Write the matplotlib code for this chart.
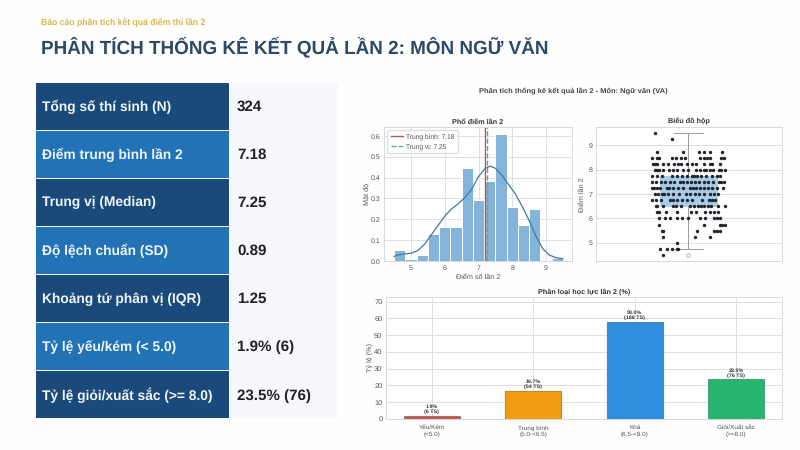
import matplotlib
matplotlib.use("Agg")
import matplotlib.pyplot as plt
from matplotlib.patches import Rectangle

plt.rcParams['font.family'] = ['Liberation Sans', 'DejaVu Sans']
plt.rcParams['text.hinting'] = 'no_hinting'

W, H = 800, 450
SUBTITLE = "Báo cáo phân tích kết quả điểm thi lần 2"
TITLE = "PHÂN TÍCH THỐNG KÊ KẾT QUẢ LẦN 2: MÔN NGỮ VĂN"
CHART_TITLE = "Phân tích thống kê kết quả lần 2 - Môn: Ngữ văn (VA)"

stat_labels = ["Tổng số thí sinh (N)", "Điểm trung bình lần 2", "Trung vị (Median)",
               "Độ lệch chuẩn (SD)", "Khoảng tứ phân vị (IQR)", "Tỷ lệ yếu/kém (< 5.0)",
               "Tỷ lệ giỏi/xuất sắc (>= 8.0)"]
stat_values = ["324", "7.18", "7.25", "0.89", "1.25", "1.9% (6)", "23.5% (76)"]
row_colors = ["#1b4a7a", "#2272b5", "#1b4a7a", "#2272b5", "#1b4a7a", "#2272b5", "#1b4a7a"]

hist_edges = [4.5, 4.833, 5.167, 5.5, 5.833, 6.167, 6.5, 6.833, 7.167, 7.5, 7.833, 8.167, 8.5, 8.833, 9.167, 9.5]
hist_density = [0.055, 0.008, 0.028, 0.13, 0.165, 0.165, 0.445, 0.295, 0.385, 0.61, 0.26, 0.175, 0.25, 0.0, 0.012]
kde_x = [4.5, 4.6, 4.8, 5.0, 5.2, 5.4, 5.6, 5.8, 6.0, 6.2, 6.4, 6.6, 6.8, 7.0, 7.2, 7.35, 7.5, 7.7, 7.9, 8.1, 8.3, 8.5, 8.7, 8.9, 9.1, 9.3, 9.5]
kde_y = [0.022, 0.028, 0.034, 0.037, 0.05, 0.08, 0.125, 0.17, 0.215, 0.25, 0.275, 0.305, 0.345, 0.405, 0.445, 0.455, 0.445, 0.41, 0.365, 0.32, 0.26, 0.195, 0.12, 0.06, 0.028, 0.016, 0.011]
mean_score = 7.18
median_score = 7.25

box_q1, box_median, box_q3 = 6.5, 7.25, 7.75
box_whisker_low, box_whisker_high = 4.75, 9.5
box_flier = 4.5
strip_levels = [9.5, 9.25, 8.75, 8.5, 8.25, 8.0, 7.75, 7.5, 7.25, 7.0, 6.75, 6.5, 6.25, 6.0, 5.75, 5.5, 5.25, 5.0, 4.75, 4.5]
strip_jitter = [
    [256], [305],
    [260, 340, 385, 402, 420, 455],
    [245, 262, 268, 305, 318, 332, 345, 390, 400, 410, 418, 452, 460],
    [250, 256, 262, 280, 295, 312, 325, 332, 350, 365, 378, 400, 418, 425, 448],
    [255, 262, 268, 280, 297, 308, 322, 340, 353, 378, 388, 400, 408, 418, 428, 445, 452, 465],
    [245, 262, 275, 305, 320, 335, 352, 365, 372, 380, 392, 408, 425, 440, 448],
    [245, 258, 272, 285, 300, 312, 330, 340, 350, 362, 375, 385, 400, 412, 428, 445, 452, 460],
    [245, 252, 262, 270, 290, 298, 310, 325, 340, 358, 368, 378, 388, 400, 412, 425, 440, 458],
    [255, 265, 275, 282, 295, 310, 328, 348, 360, 375, 385, 400, 418, 430, 442],
    [245, 258, 272, 300, 310, 322, 335, 352, 365, 395, 415, 425, 435],
    [258, 262, 278, 308, 318, 332, 360, 372, 382, 392, 402, 412, 422, 442, 465],
    [262, 268, 288, 320, 362, 378, 405, 418, 430, 442],
    [268, 285, 300, 322, 335, 355, 390, 405, 430, 440, 448],
    [268, 400, 448, 455, 465],
    [275, 280, 380, 430, 440, 450],
    [278, 375, 418],
    [320],
    [270, 290, 305, 322, 325],
    [278],
]

bar_labels = ["Yếu/Kém\n(<5.0)", "Trung bình\n(5.0-<6.5)", "Khá\n(6.5-<8.0)", "Giỏi/Xuất sắc\n(>=8.0)"]
bar_pct = [1.9, 16.7, 58.0, 23.5]
bar_counts = [6, 54, 188, 76]
bar_colors = ["#c0574a", "#f39c12", "#2f8fdf", "#28b56f"]
bar_edges = ["#b0706a", "#b98a3c", "#4f86b3", "#4fa07d"]

GRID = "#dfdfe8"
SPINE = "#d8d8e2"
TXT = "#555555"


def axes_px(fig, left, top, right, bottom):
    return fig.add_axes([left / W, 1 - bottom / H, (right - left) / W, (bottom - top) / H])


def style(ax):
    ax.set_facecolor("white")
    ax.set_axisbelow(True)
    ax.grid(True, color=GRID, lw=0.7)
    for s in ax.spines.values():
        s.set_color(SPINE)
        s.set_linewidth(0.7)
    ax.tick_params(length=0, labelsize=5.0, labelcolor=TXT, pad=2.5)


fig = plt.figure(figsize=(W / 100, H / 100), dpi=100, facecolor="#fefefe")

# Header
fig.text(41 / W, 1 - 22 / H, SUBTITLE, fontsize=6.2, fontweight="bold", color="#d9b44a", va="center")
fig.text(41 / W, 1 - 47 / H, TITLE, fontsize=13.6, fontweight="bold", color="#2c4a68", va="center")

# Statistic panel
panel = fig.add_axes([0, 0, 1, 1], zorder=0)
panel.set_xlim(0, W)
panel.set_ylim(H, 0)
panel.axis("off")
panel.add_patch(Rectangle((230, 82.5), 108, 335.5, fc="#f7f8fc", ec="none"))
row_top = 82.5
row_pitch = 48.1
for i, (lab, val, col) in enumerate(zip(stat_labels, stat_values, row_colors)):
    y = row_top + i * row_pitch
    panel.add_patch(Rectangle((36, y), 193, 47, fc=col, ec="none"))
    panel.text(42, y + 24, lab, fontsize=9.9, fontweight="bold", color="#eef6fb", va="center")
    panel.text(237, y + 24.5, val, fontsize=10.9, fontweight="bold", color="#222222", va="center")

fig.text(573 / W, 1 - 91 / H, CHART_TITLE, fontsize=5.4, fontweight="bold", color="#444444",
         ha="center", va="center")

# Histogram
ax1 = axes_px(fig, 384, 127, 572, 261)
style(ax1)
ax1.bar(hist_edges[:-1], hist_density, width=[b - a for a, b in zip(hist_edges[:-1], hist_edges[1:])],
        align="edge", color="#85b4da", edgecolor="white", linewidth=0.7)
ax1.plot(kde_x, kde_y, color="#3f7a9f", lw=0.9)
ax1.axvline(mean_score, color="#c0574a", lw=1.0, label=f"Trung bình: {mean_score:.2f}")
ax1.axvline(median_score, color="#6aa88c", lw=1.0, ls="--", label=f"Trung vị: {median_score:.2f}")
ax1.set_xlim(4.2, 9.77)
ax1.set_ylim(0, 0.643)
ax1.set_xticks([5, 6, 7, 8, 9])
ax1.set_yticks([0, 0.1, 0.2, 0.3, 0.4, 0.5, 0.6])
ax1.set_title("Phổ điểm lần 2", fontsize=5.2, fontweight="bold", color="#333333", pad=2.5)
ax1.set_xlabel("Điểm số lần 2", fontsize=5.2, color=TXT, labelpad=2)
ax1.set_ylabel("Mật độ", fontsize=5.2, color=TXT, labelpad=0.5)
ax1.legend(loc="upper left", fontsize=4.8, frameon=True, facecolor="white", edgecolor=SPINE,
           framealpha=0.8, labelcolor=TXT, borderpad=0.5, handlelength=1.8, handletextpad=0.5,
           labelspacing=0.5)

# Box plot with strip
ax2 = axes_px(fig, 596, 127.5, 782, 261)
style(ax2)
ax2.bxp([dict(med=box_median, q1=box_q1, q3=box_q3, whislo=box_whisker_low, whishi=box_whisker_high,
              fliers=[box_flier])],
        positions=[355], widths=[168], capwidths=[84], patch_artist=True, manage_ticks=False,
        boxprops=dict(facecolor="#a9cde8", edgecolor="#a9cde8", linewidth=0.6),
        medianprops=dict(color="#8fb4d4", linewidth=0.7),
        whiskerprops=dict(color="#9a9aa0", linewidth=0.7),
        capprops=dict(color="#9a9aa0", linewidth=0.7),
        flierprops=dict(marker="o", markersize=2.6, markerfacecolor="white",
                        markeredgecolor="#9a9aa0", markeredgewidth=0.5))
for level, xs in zip(strip_levels, strip_jitter):
    ax2.scatter(xs, [level] * len(xs), s=6, color="#20242c", linewidths=0, zorder=4)
ax2.set_xlim(78, 635)
ax2.set_ylim(4.25, 9.74)
ax2.set_xticks([])
ax2.set_yticks([5, 6, 7, 8, 9])
ax2.set_title("Biểu đồ hộp", fontsize=5.2, fontweight="bold", color="#333333", pad=2.5)
ax2.set_ylabel("Điểm lần 2", fontsize=5.2, color=TXT, labelpad=2)

# Category bars
ax3 = axes_px(fig, 386, 296.7, 782, 418.7)
style(ax3)
ax3.bar(range(4), bar_pct, width=0.55, color=bar_colors, edgecolor=bar_edges, linewidth=0.8)
for i, (p, c) in enumerate(zip(bar_pct, bar_counts)):
    ax3.text(i, p + 0.9, f"{p:.1f}%\n({c} TS)", ha="center", va="bottom", fontsize=3.9,
             fontweight="bold", color="#333333", linespacing=1.15)
ax3.set_xlim(-0.45, 3.45)
ax3.set_ylim(0, 73)
ax3.set_xticks(range(4))
ax3.set_xticklabels(bar_labels, linespacing=1.2)
ax3.tick_params(axis="x", labelsize=4.6, pad=4.5)
ax3.tick_params(axis="y", labelsize=5.4)
ax3.set_yticks(range(0, 71, 10))
ax3.set_title("Phân loại học lực lần 2 (%)", fontsize=5.2, fontweight="bold", color="#333333", pad=2.5)
ax3.set_ylabel("Tỷ lệ (%)", fontsize=5.2, color=TXT, labelpad=1)

fig.savefig("out.png", dpi=100, facecolor=fig.get_facecolor())
